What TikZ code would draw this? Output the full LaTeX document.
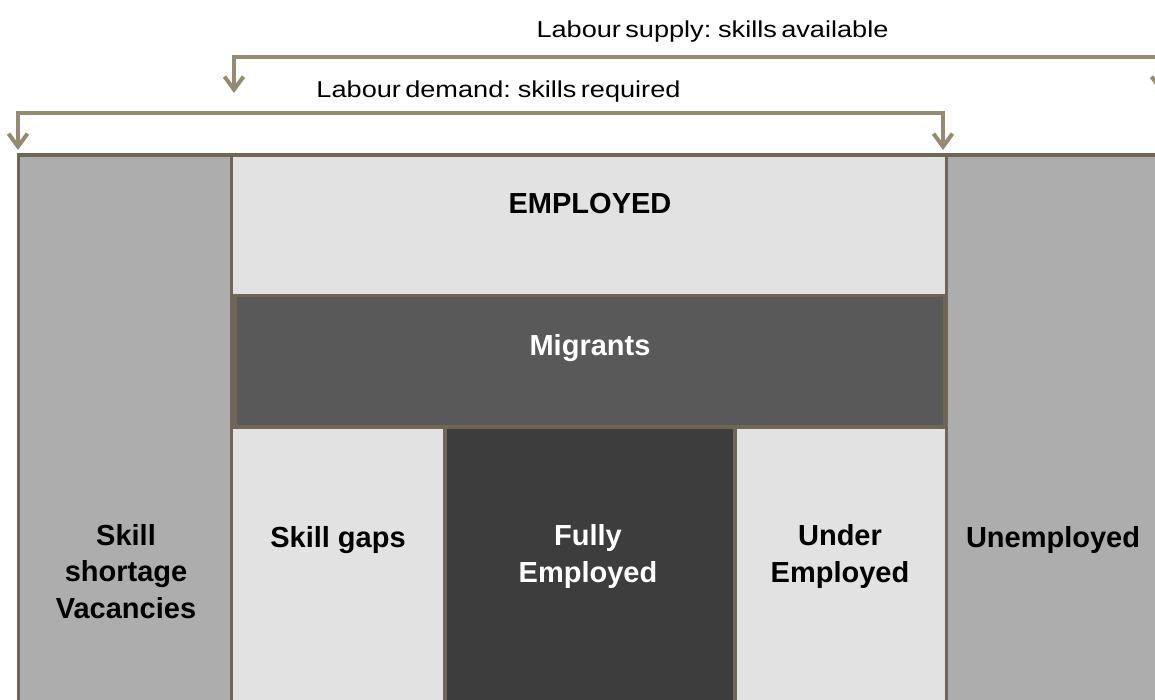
\documentclass[tikz,border=0pt]{standalone}
\usepackage{fontspec}
\setmainfont{Liberation Sans}
\usetikzlibrary{arrows.meta,calc}
\definecolor{bord}{HTML}{6F6753}
\definecolor{arr}{HTML}{978B6F}
\definecolor{midgray}{HTML}{ADADAD}
\definecolor{lightgray}{HTML}{E2E2E2}
\definecolor{mig}{HTML}{595959}
\definecolor{full}{HTML}{3D3D3D}
\newcommand\labfont{\fontsize{23}{28}\selectfont\spaceskip=0.16em plus 0.05em minus 0.02em\relax}
\begin{document}
\begin{tikzpicture}[x=1pt,y=-1pt,
  box/.style={draw=bord, line width=3.5pt, inner sep=0pt, outer sep=0pt, anchor=north west},
  big/.style={font=\fontsize{29}{36.5}\selectfont\bfseries, align=center, anchor=base, inner sep=0pt},
  small/.style={font=\labfont, anchor=base, inner sep=0pt, xscale=1.18, transform shape},
  brk/.style={draw=arr, line width=4pt, line join=miter, >={Straight Barb[length=13pt,width=19pt]}, <->}
]
\useasboundingbox (0,0) rectangle (1155,700);
\clip (0,0) rectangle (1155,700);
% lower boxes
\node[box, fill=lightgray, minimum width=213.5pt, minimum height=340pt] (gaps) at (231.5,427) {};
\node[box, fill=full, minimum width=290pt, minimum height=340pt] (fully) at (445,427) {};
\node[box, fill=lightgray, minimum width=211.5pt, minimum height=340pt] (under) at (735,427) {};
% employed and migrants
\node[box, fill=lightgray, minimum width=715pt, minimum height=140.5pt] (employed) at (231.5,155) {};
\node[box, fill=mig, minimum width=710pt, minimum height=131.5pt] (migrants) at (235,295.5) {};
% side columns
\node[box, fill=midgray, minimum width=213pt, minimum height=620pt] (short) at (18.5,155) {};
\node[box, fill=midgray, minimum width=260pt, minimum height=620pt] (unemp) at (946.5,155) {};
% texts
\node[big] (tEmp) at (590,214) {EMPLOYED};
\node[big, text=white] (tMig) at (590,355) {Migrants};
\node[big] (tShort) at (126,618) {Skill\\shortage\\Vacancies};
\node[big] (tGaps) at (338,547) {Skill gaps};
\node[big, text=white] (tFully) at (588,582) {Fully\\Employed};
\node[big] (tUnder) at (840,582) {Under\\Employed};
\node[big] (tUnemp) at (1053,547) {Unemployed};
\node[small] (tDemand) at (498.5,98) {Labour demand: skills required};
\node[small] (tSupply) at (712.5,38) {Labour supply: skills available};
% brackets
\coordinate (supL) at (234,57);
\coordinate (supR) at (1161,57);
\coordinate (supLend) at (234,93);
\coordinate (supRend) at (1161,93);
\draw[brk] (supLend) -- (supL) -- (supR) -- (supRend);
\coordinate (demL) at (18,113);
\coordinate (demR) at (943,113);
\coordinate (demLend) at ($(short.north west)+(-0.5,-5)$);
\coordinate (demRend) at ($(unemp.north west)+(-3.5,-5)$);
\draw[brk] (demLend) -- (demL) -- (demR) -- (demRend);
\end{tikzpicture}
\end{document}
